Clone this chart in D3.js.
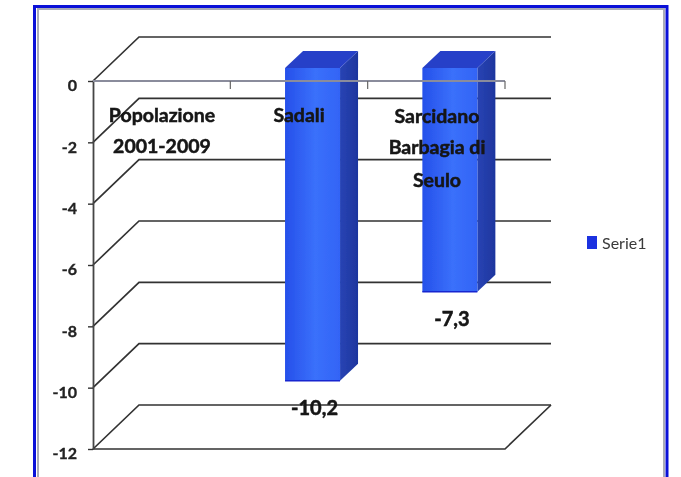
<!DOCTYPE html>
<html>
<head>
<meta charset="utf-8">
<script src="https://cdn.jsdelivr.net/npm/d3@7"></script>
<style>
  html, body { margin: 0; padding: 0; background: #fff; }
  svg { display: block; }
  text { font-family: Lato, "Liberation Sans", sans-serif; fill: #141414; }
</style>
</head>
<body>
<div id="chart"></div>
<script>
var categories = ["Popolazione 2001-2009", "Sadali", "Sarcidano Barbagia di Seulo"];
var categoryLines = [["Popolazione", "2001-2009"], ["Sadali"], ["Sarcidano", "Barbagia di", "Seulo"]];
var seriesName = "Serie1";
var values = [null, -10.2, -7.3];
var valueLabels = ["", "-10,2", "-7,3"];
var yTicks = [0, -2, -4, -6, -8, -10, -12];

var W = 681, H = 477;
var svg = d3.select("#chart").append("svg").attr("width", W).attr("height", H);
var defs = svg.append("defs");

// the source is a soft screenshot, a little blur gets the same look
defs.append("filter").attr("id", "soft")
  .append("feGaussianBlur").attr("stdDeviation", 0.7);

var front = defs.append("linearGradient").attr("id", "barFront");
front.append("stop").attr("offset", "0%").attr("stop-color", "#2650ea");
front.append("stop").attr("offset", "55%").attr("stop-color", "#3a70fb");
front.append("stop").attr("offset", "100%").attr("stop-color", "#3364f6");

var side = defs.append("linearGradient").attr("id", "barSide");
side.append("stop").attr("offset", "0%").attr("stop-color", "#2844b4");
side.append("stop").attr("offset", "100%").attr("stop-color", "#1e359e");

var y = d3.scaleLinear().domain([0, -12]).range([81, 449]);
var x = d3.scaleBand().domain(categories).range([93, 505]);

// 3d box offsets
var depthX = 46, depthY = -44;
var barInX = 54.7, barW = 55, barShiftY = -13, barDepthX = 18, barDepthY = -17;

// outer frame
svg.append("path").attr("d", "M34.5,477V6.5H667V477")
  .attr("fill", "none").attr("stroke", "#0a10d8").attr("stroke-width", 3);
svg.append("path").attr("d", "M38,477V9H664V477")
  .attr("fill", "none").attr("stroke", "#a9abb8").attr("stroke-width", 2);

var plot = svg.append("g").attr("filter", "url(#soft)");

// walls: one back line plus side line per tick
var grid = plot.append("g").attr("fill", "none").attr("stroke", "#333").attr("stroke-width", 1.7);
grid.selectAll("path").data(yTicks).enter().append("path")
  .attr("d", function(d) {
    var f = y(d), b = f + depthY;
    return "M93," + f + "L" + (93 + depthX) + "," + b + "H" + (505 + depthX);
  });
// floor
grid.append("path")
  .attr("d", "M93," + y(-12) + "H505L" + (505 + depthX) + "," + (y(-12) + depthY));

// axes
var yAxis = plot.append("g").attr("transform", "translate(93,0)")
  .call(d3.axisLeft(y).tickValues(yTicks).tickSize(5).tickSizeOuter(0).tickPadding(11)
    .tickFormat(function(d) { return d; }));
yAxis.select(".domain").attr("stroke", "#444").attr("stroke-width", 1.8);
yAxis.selectAll(".tick line").attr("stroke", "#333").attr("stroke-width", 1.4);
yAxis.selectAll("text").attr("font-size", 16).attr("font-weight", "bold").attr("dy", "0.62em")
  .style("fill", "#222").style("stroke", "#222").style("stroke-width", 0.35);

// bars
var bars = plot.append("g").selectAll("g")
  .data(categories.map(function(c, i) { return { cat: c, value: values[i], label: valueLabels[i] }; })
    .filter(function(d) { return d.value !== null; }))
  .enter().append("g");

bars.append("path").attr("fill", "url(#barSide)")
  .attr("d", function(d) {
    var l = x(d.cat) + barInX, r = l + barW, t = y(0) + barShiftY, b = y(d.value) + barShiftY;
    return "M" + r + "," + t + "l" + barDepthX + "," + barDepthY + "V" + (b + barDepthY) + "l" + (-barDepthX) + "," + (-barDepthY) + "Z";
  });
bars.append("path").attr("fill", "#2540c8")
  .attr("d", function(d) {
    var l = x(d.cat) + barInX, t = y(0) + barShiftY;
    return "M" + l + "," + t + "l" + barDepthX + "," + barDepthY + "h" + barW + "l" + (-barDepthX) + "," + (-barDepthY) + "Z";
  });
bars.append("rect").attr("fill", "url(#barFront)")
  .attr("x", function(d) { return x(d.cat) + barInX; })
  .attr("y", y(0) + barShiftY)
  .attr("width", barW)
  .attr("height", function(d) { return y(d.value) - y(0); });
bars.append("path").attr("fill", "none").attr("stroke", "#1226d0").attr("stroke-width", 1.5)
  .attr("d", function(d) {
    var l = x(d.cat) + barInX, b = y(d.value) + barShiftY;
    return "M" + l + "," + b + "h" + barW;
  });

// category axis sits at 0, it shows through the bars
var xAxis = plot.append("g").attr("transform", "translate(0," + y(0) + ")");
xAxis.append("path").attr("d", "M93,0H505").attr("fill", "none").attr("stroke", "#8a8c9c").attr("stroke-width", 2);
xAxis.selectAll("line").data(categories.map(function(c) { return x(c) + x.bandwidth(); })).enter().append("line")
  .attr("x1", function(d) { return d; }).attr("x2", function(d) { return d; })
  .attr("y1", 0).attr("y2", 8)
  .attr("stroke", "#666").attr("stroke-width", 1.2);

// category labels
var catBaseline = [[122, 153], [122], [123, 154, 187]];
var catCenter = [162, 299, 437];
var catLabels = plot.append("g").attr("text-anchor", "middle").attr("font-size", 19.5).attr("font-weight", "bold")
  .style("stroke", "#141414").style("stroke-width", 0.5);
categoryLines.forEach(function(lines, i) {
  lines.forEach(function(line, j) {
    catLabels.append("text").attr("x", catCenter[i]).attr("y", catBaseline[i][j]).text(line);
  });
});

// value labels
plot.append("g").attr("text-anchor", "middle").attr("font-size", 20).attr("font-weight", "bold")
  .style("stroke", "#141414").style("stroke-width", 0.5)
  .selectAll("text").data(categories.map(function(c, i) { return { v: values[i], l: valueLabels[i], c: c }; })
    .filter(function(d) { return d.v !== null; }))
  .enter().append("text")
  .attr("x", function(d) { return x(d.c) + barInX + barW / 2 + 2; })
  .attr("y", function(d) { return y(d.v) + 21; })
  .text(function(d) { return d.l; });

// legend
var legend = plot.append("g");
legend.append("rect").attr("x", 587).attr("y", 236).attr("width", 10).attr("height", 13).attr("fill", "#1a30e0");
legend.append("text").attr("x", 602).attr("y", 249).attr("font-size", 16).style("fill", "#3a3a3a").text(seriesName);
</script>
</body>
</html>
